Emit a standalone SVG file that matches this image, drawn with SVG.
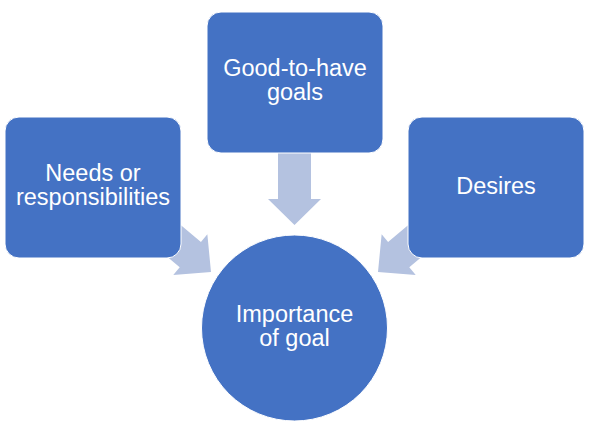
<svg xmlns="http://www.w3.org/2000/svg" width="591" height="425" viewBox="0 0 591 425">
<style>
.box{fill:#4472C4;stroke:#ffffff;stroke-width:1}
.arr{fill:#B4C2E0}
.t{font-family:"Liberation Sans",Arial,sans-serif;font-size:23.5px;fill:#ffffff;text-anchor:middle}
</style>
<rect width="591" height="425" fill="#ffffff"/>
<g id="connectors">
<path class="arr" d="M278,153 H311 V199 H321 L294.5,225 L268,199 H278 Z"/>
<path class="arr" transform="translate(211,272) rotate(40)" d="M-60,-16.5 H-27 V-26.5 L0,0 L-27,26.5 V16.5 H-60 Z"/>
<path class="arr" transform="translate(378,272) rotate(140)" d="M-60,-16.5 H-27 V-26.5 L0,0 L-27,26.5 V16.5 H-60 Z"/>
</g>
<g id="needs">
<rect class="box" x="5" y="117" width="176" height="141" rx="14"/>
<text class="t" x="93" y="181">Needs or</text>
<text class="t" x="93" y="205">responsibilities</text>
</g>
<g id="goodtohave">
<rect class="box" x="207" y="12" width="176" height="141" rx="14"/>
<text class="t" x="295" y="76">Good-to-have</text>
<text class="t" x="295" y="100">goals</text>
</g>
<g id="desires">
<rect class="box" x="408" y="117" width="176" height="141" rx="14"/>
<text class="t" x="496" y="194">Desires</text>
</g>
<g id="importance">
<circle class="box" cx="294.5" cy="328" r="93"/>
<text class="t" x="294.5" y="322">Importance</text>
<text class="t" x="294.5" y="346">of goal</text>
</g>
</svg>
